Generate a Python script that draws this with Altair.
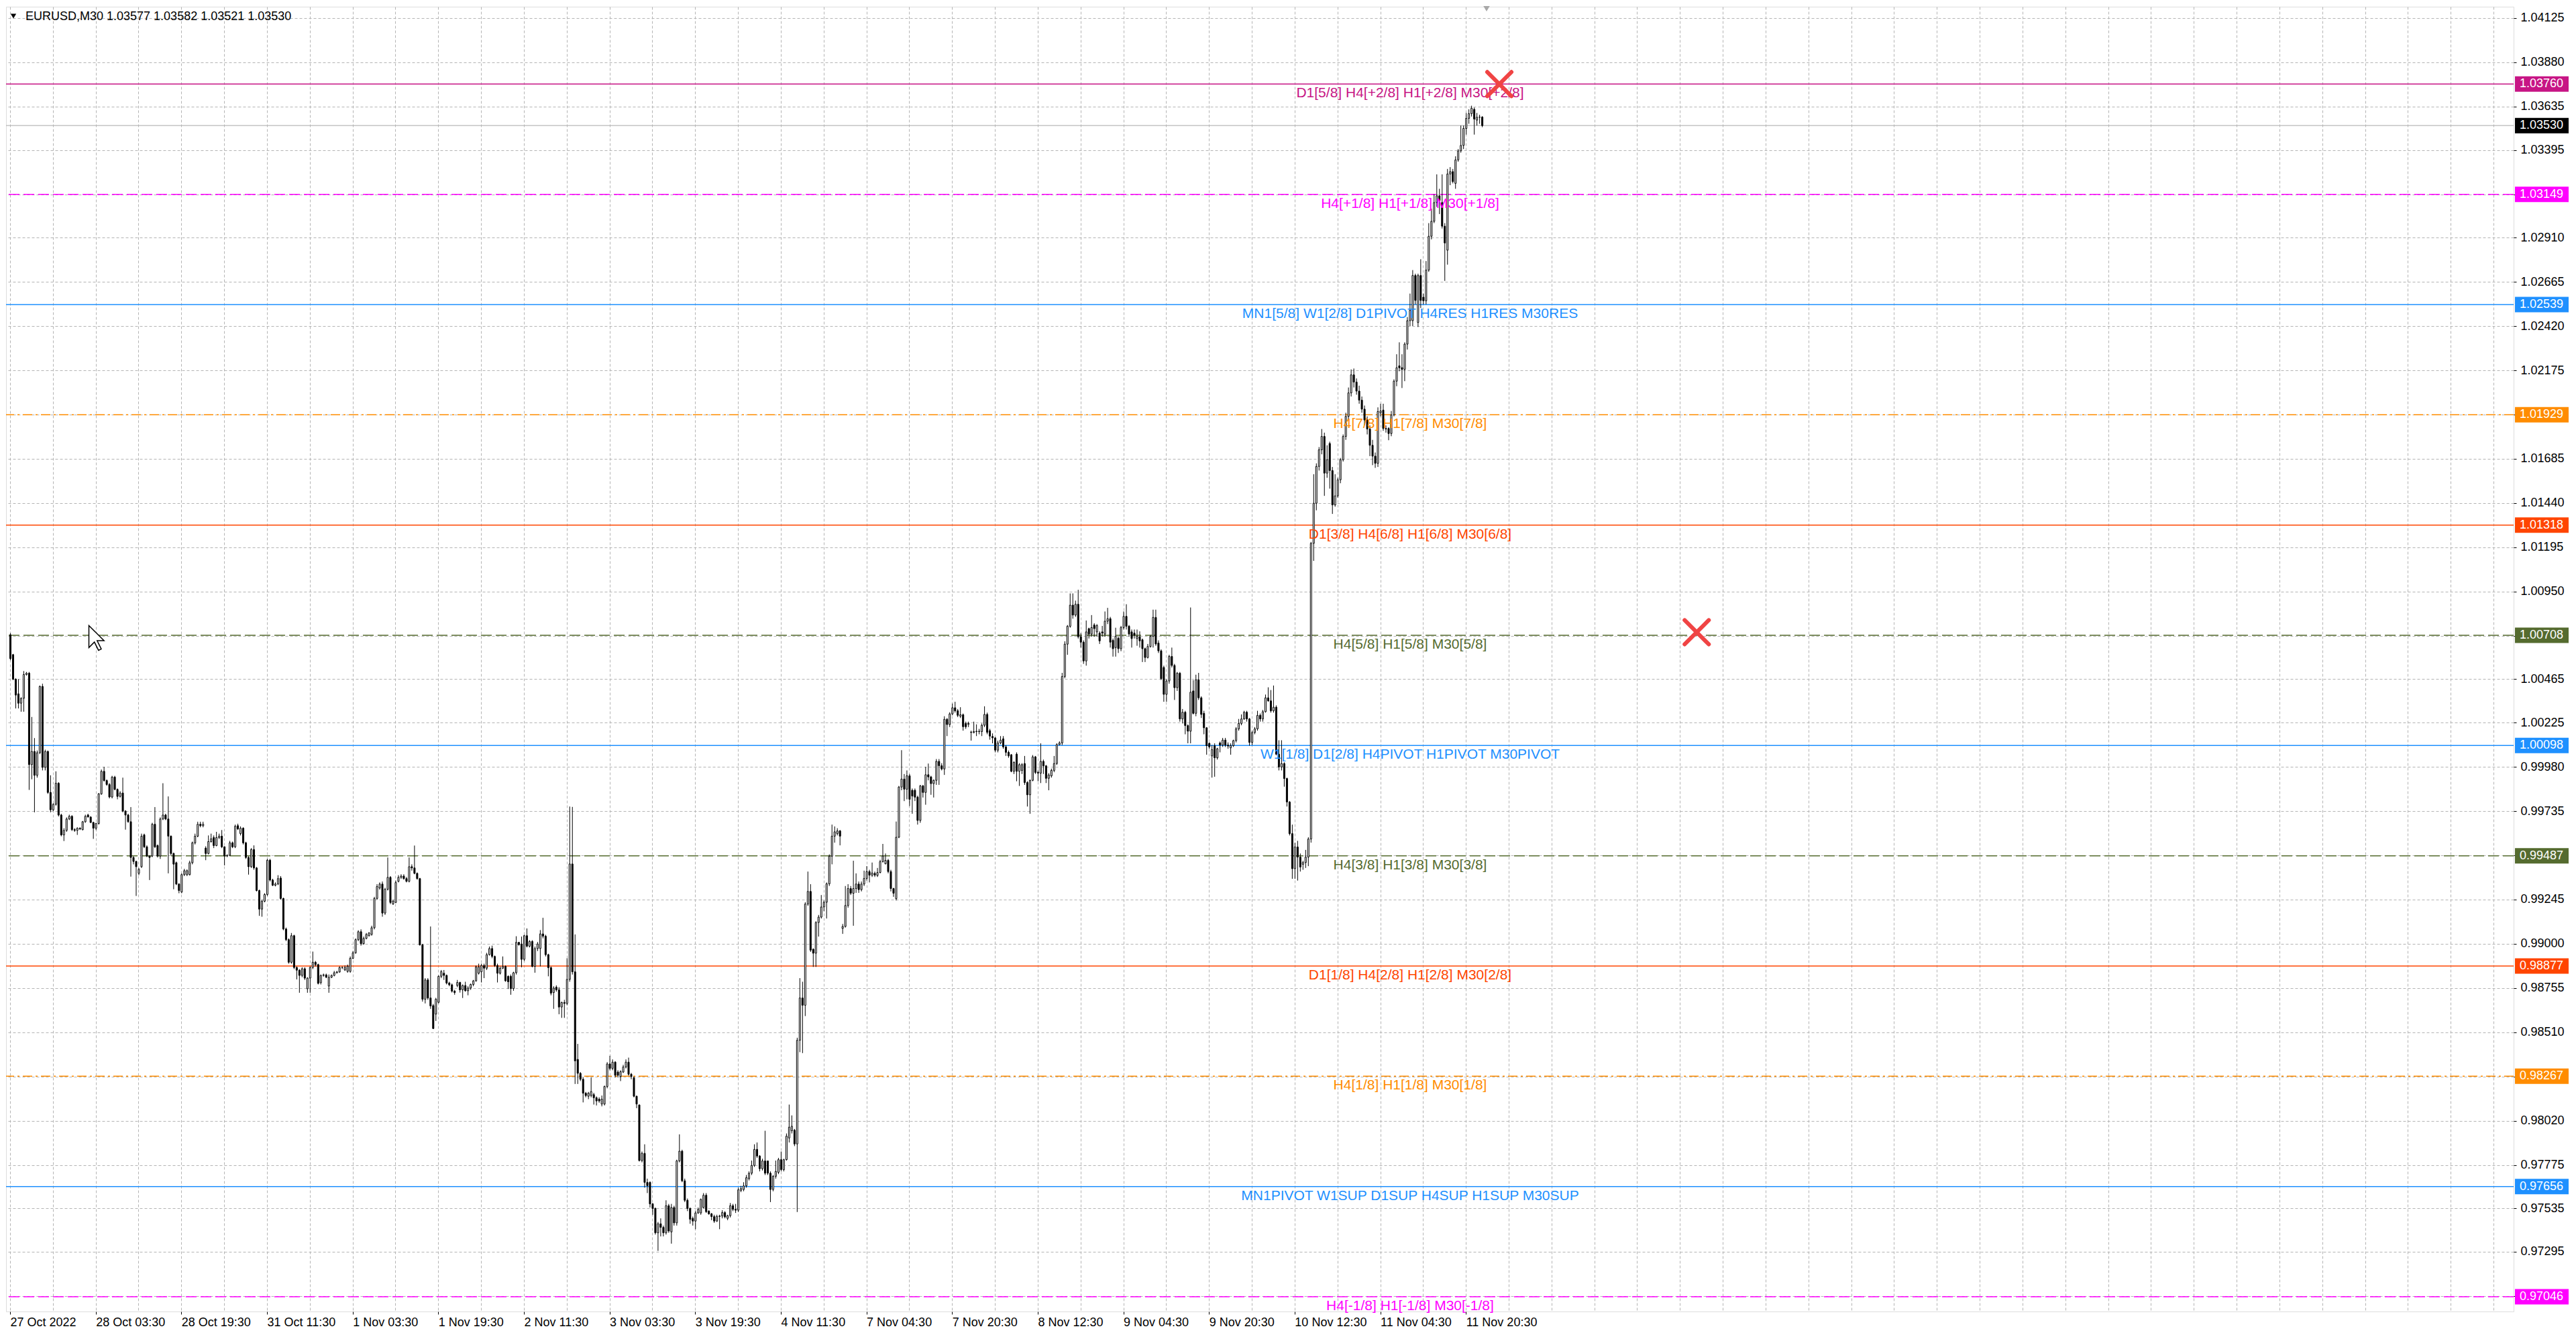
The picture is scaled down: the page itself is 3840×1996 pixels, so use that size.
import altair as alt
import pandas as pd

# ---------------- candle data (price in points, 1 point = 0.00001) ----------------
OPEN_PTS = [
100711,100601,100465,100384,100332,100359,100491,100498,99992,100065,
99933,100058,100425,99977,100065,99838,99742,99772,99889,99713,
99603,99628,99691,99706,99632,99628,99640,99632,99676,99713,
99702,99672,99640,99666,99830,99955,99904,99882,99813,99923,
99855,99816,99835,99735,99713,99676,99478,99456,99390,99427,
99603,99537,99486,99486,99662,99544,99486,99691,99713,99691,
99596,99500,99449,99331,99287,99383,99383,99383,99449,99559,
99596,99662,99654,99530,99500,99566,99588,99544,99588,99596,
99537,99486,99490,99559,99537,99654,99610,99640,99559,99478,
99427,99522,99420,99295,99192,99236,99273,99463,99353,99324,
99331,99364,99251,99082,99023,98898,99045,98869,98854,98825,
98862,98751,98810,98869,98898,98885,98785,98825,98828,98766,
98815,98825,98840,98844,98869,98855,98847,98847,98920,98950,
99023,99067,99001,99030,99045,99052,99089,99251,99309,99331,
99170,99302,99368,99221,99229,99346,99368,99375,99361,99346,
99427,99420,99390,99361,98994,98693,98800,98700,
98658,98611,98676,98820,98837,98825,98783,98773,98738,98769,
98786,98745,98769,98740,98755,98775,98795,98837,98845,98880,
98865,98940,98974,98930,98880,98837,98865,98875,98820,98820,
98752,98840,99008,98999,98914,99045,98987,99013,98875,98974,
98974,99055,99042,98940,98868,98730,98760,98745,98650,98675,
98670,98803,99442,98845,98360,98283,98250,98173,98156,98160,
98165,98148,98140,98113,98113,98210,98335,98310,98345,98290,
98265,98290,98318,98345,98278,98258,98156,98108,97800,97840,
97679,97679,97560,97535,97400,97450,97430,97400,97550,97405,
97540,97455,97798,97852,97688,97580,97535,97480,97465,97510,
97510,97540,97608,97520,97505,97490,97465,97490,97493,97512,
97480,97495,97550,97530,97525,97635,97640,97660,97700,97730,
97773,97862,97825,97755,97798,97798,97730,97640,97713,97735,
97805,97750,97805,97925,97965,97968,97892,98466,98700,98660,
99220,99290,98970,98948,99118,99148,99204,99230,99332,99485,
99596,99610,99625,99085,99096,99212,99306,99280,
99306,99331,99300,99331,99362,99400,99380,99390,99378,99395,
99455,99443,99462,99400,99306,99250,99590,99868,99912,99856,
99930,99850,99850,99812,99683,99874,99838,99936,99924,99887,
99905,100010,99986,99968,100243,100214,100273,100307,100290,100260,
100268,100220,100215,100172,100170,100175,100177,100175,100210,100270,
100180,100148,100140,100072,100112,100135,100090,100060,100047,99955,
100050,99955,99960,99998,99893,99825,99905,100035,99950,99945,
100010,99985,99916,99930,99960,99998,100103,100112,100480,100659,
100758,100875,100820,100880,100700,100670,100566,100745,100715,100765,
100727,100720,100727,100715,100786,100800,100680,100640,100692,100634,
100751,100813,100758,100727,100720,100690,100700,100683,100634,100585,
100646,100702,100807,100665,100622,100530,100381,100455,100591,100541,
100418,100498,100245,100282,100208,100177,100400,100276,100461,100362,
100276,100196,100110,100040,100097,100030,100112,100100,100128,100100,
100085,100097,100125,100190,100220,100245,100282,100245,100115,100170,
100190,100265,100245,100285,100362,100345,100290,100310,100050,
99979,99998,99915,99785,99610,99416,99536,99480,99440,99450,
99480,99580,101217,101439,101643,101735,101809,101606,101770,101620,
101430,101480,101569,101680,101809,101920,102050,102150,102110,102060,
102010,101960,101900,101850,101760,101700,101660,101940,101955,101853,
101853,101825,101928,102115,102200,102190,102180,102320,102450,102450,
102700,102440,102700,102580,102560,102730,102917,103000,103104,103141,
103104,102973,102840,103262,103275,103210,103340,103390,103420,103514,
103570,103596,103620,103560,103576,103577,
]

HIGH_PTS = [
100720,100605,100470,100465,100365,100510,100505,100505,100256,100139,
100070,100430,100440,100075,100070,99933,99779,99955,99895,99720,
99640,99700,99715,99712,99640,99645,99645,99680,99715,99720,
99706,99676,99670,99835,99965,99980,99910,99890,99930,99930,
99860,99845,99920,99740,99720,99757,99485,99460,99420,99610,
99610,99545,99490,99670,99757,99550,99700,99889,99720,99816,
99600,99505,99455,99335,99390,99415,99412,99460,99566,99610,
99676,99676,99676,99540,99600,99610,99600,99620,99610,99630,
99540,99495,99570,99566,99660,99665,99650,99645,99565,99485,
99530,99545,99425,99300,99245,99280,99470,99470,99360,99340,
99380,99375,99255,99090,99030,99060,99050,98875,98860,98870,
98870,98815,98875,98957,98905,98890,98830,98835,98835,98830,
98830,98850,98850,98875,98875,98880,98885,98930,98960,99030,
99075,99080,99040,99060,99065,99100,99260,99330,99340,99345,
99310,99478,99375,99245,99350,99380,99385,99385,99370,99478,
99440,99544,99395,99365,99000,98810,98810,99096,
98667,98701,98825,98855,98855,98830,98790,98780,98745,98800,
98790,98775,98790,98765,98780,98800,98880,98890,98890,98890,
98950,98985,98990,98935,98890,98875,98930,98880,98825,98830,
98845,99042,99010,99040,99050,99085,99020,99020,98985,99010,
99076,99144,99050,98945,98875,98765,98770,98760,98680,98690,
98920,99760,99758,99052,98446,98290,98260,98180,98180,98260,
98175,98155,98150,98160,98215,98345,98380,98360,98350,98300,
98300,98330,98360,98370,98285,98265,98160,98110,97850,97890,
97700,97685,97565,97540,97460,97480,97440,97580,97560,97560,
97550,97805,97945,97860,97700,97590,97540,97490,97520,97540,
97590,97620,97620,97525,97510,97500,97500,97500,97525,97520,
97500,97565,97560,97560,97650,97660,97680,97720,97740,97800,
97890,97900,97830,97810,97965,97800,97740,97720,97800,97815,
97850,97810,97950,98110,98050,97975,98480,98810,98790,99230,
99400,99330,98975,99125,99160,99270,99240,99340,99495,99660,
99650,99640,99630,99110,99320,99330,99320,99460,
99390,99345,99345,99405,99430,99410,99450,99400,99420,99465,
99553,99500,99470,99410,99310,99677,99874,100072,99940,99960,
99940,99860,99860,99820,99880,99880,99980,99998,99930,99910,
100023,100023,100000,100260,100250,100282,100330,100340,100300,100310,
100275,100230,100230,100180,100230,100215,100190,100220,100315,100280,
100190,100165,100145,100125,100150,100150,100100,100070,100050,100010,
100060,100000,100000,100040,99900,99910,100045,100040,99960,100110,
100020,99990,99945,99970,100040,100110,100121,100500,100675,100765,
100940,100940,100900,100960,100720,100680,100790,100750,100820,100775,
100770,100730,100760,100840,100860,100810,100690,100750,100700,100760,
100840,100880,100765,100740,100740,100740,100730,100690,100640,100660,
100710,100850,100850,100680,100630,100540,100465,100600,100640,100550,
100505,100505,100300,100290,100215,100862,100460,100490,100500,100370,
100290,100200,100115,100100,100110,100085,100120,100140,100140,100115,
100110,100130,100200,100245,100270,100290,100290,100250,100180,100200,
100290,100275,100295,100380,100420,100405,100430,100320,100127,
100127,100005,99920,99790,99660,99560,99570,99500,99460,99520,
99590,101225,101600,101660,101750,101850,101830,101760,101780,101640,
101600,101580,101690,101820,101940,102080,102180,102185,102130,102090,
102030,101980,101920,101870,101790,101720,101970,101990,101990,101870,
101860,101950,102125,102264,102330,102264,102330,102470,102600,102730,
102710,102710,102790,102600,102780,102990,103070,103150,103260,103180,
103260,102990,103290,103300,103290,103360,103400,103530,103530,103600,
103620,103640,103630,103600,103590,103582,
]

LOW_PTS = [
100570,100460,100303,100303,100285,100285,100485,99852,99911,99728,
99920,100050,99960,99960,99830,99728,99735,99765,99705,99595,
99569,99620,99685,99625,99620,99603,99630,99628,99670,99700,
99668,99581,99630,99660,99825,99898,99875,99805,99805,99850,
99800,99810,99728,99632,99670,99372,99440,99265,99380,99420,
99530,99480,99353,99480,99530,99478,99470,99685,99685,99390,
99490,99302,99325,99280,99280,99375,99375,99378,99440,99550,
99590,99645,99645,99463,99495,99560,99530,99540,99580,99530,
99434,99480,99485,99530,99530,99630,99600,99550,99470,99383,
99420,99410,99290,99155,99150,99230,99265,99345,99320,99318,
99325,99245,99075,99015,98890,98890,98860,98803,98729,98815,
98800,98729,98729,98860,98875,98775,98775,98818,98810,98729,
98810,98820,98835,98840,98860,98850,98840,98840,98915,98945,
99015,98990,98995,99025,99040,99045,99080,99245,99300,99150,
99160,99295,99220,99215,99225,99340,99360,99355,99340,99340,
99405,99385,99355,98990,98680,98670,98690,98640,
98528,98573,98670,98810,98800,98775,98765,98730,98718,98760,
98730,98700,98735,98715,98745,98765,98790,98830,98786,98810,
98855,98935,98920,98872,98786,98830,98860,98790,98750,98718,
98740,98830,98990,98870,98905,98980,98980,98870,98840,98960,
98875,99030,98930,98820,98715,98640,98735,98610,98590,98590,
98660,98790,98830,98224,98224,98240,98122,98150,98140,98150,
98110,98105,98120,98100,98105,98200,98300,98300,98260,98260,
98240,98285,98310,98270,98250,98150,98090,97795,97790,97650,
97620,97540,97500,97390,97300,97380,97380,97390,97400,97340,
97440,97440,97790,97680,97570,97520,97450,97440,97420,97505,
97500,97535,97510,97500,97470,97455,97460,97420,97480,97480,
97470,97485,97520,97510,97515,97625,97630,97650,97690,97720,
97765,97815,97740,97745,97720,97720,97570,97630,97700,97725,
97740,97740,97800,97900,97950,97880,97515,98400,98395,98600,
99210,98955,98872,98872,99040,99140,99180,99140,99320,99440,
99560,99600,99545,99055,99090,99200,99270,99100,
99282,99282,99290,99320,99350,99340,99370,99370,99370,99390,
99450,99440,99390,99290,99260,99240,99585,99850,99790,99800,
99763,99720,99790,99660,99670,99810,99770,99905,99825,99810,
99880,99880,99960,99935,100150,100200,100265,100280,100255,100250,
100180,100190,100200,100125,100165,100150,100160,100150,100200,100160,
100130,100110,100060,100060,100105,100080,100040,100030,99950,99940,
99900,99874,99940,99880,99760,99720,99900,99940,99900,99890,
99940,99890,99850,99920,99950,99990,100100,100100,100470,100600,
100750,100800,100810,100690,100640,100550,100540,100690,100700,100700,
100700,100660,100700,100700,100770,100640,100590,100590,100610,100620,
100740,100740,100700,100640,100690,100650,100640,100560,100560,100580,
100640,100640,100650,100610,100460,100340,100340,100440,100530,100350,
100400,100230,100220,100160,100110,100110,100270,100260,100350,100250,
100160,100047,100080,99920,99925,100020,100060,100090,100090,100080,
100047,100090,100115,100180,100210,100240,100230,100097,100100,100160,
100180,100230,100230,100280,100340,100280,100280,100044,99960,
99960,99870,99760,99600,99360,99360,99350,99400,99410,99420,
99430,99560,101120,101400,101620,101710,101480,101580,101520,101380,
101420,101470,101550,101670,101790,101900,102030,102080,102040,101990,
101940,101870,101820,101700,101650,101635,101640,101920,101840,101830,
101788,101810,101920,102087,102170,102077,102115,102290,102420,102420,
102540,102415,102520,102540,102540,102720,102900,102990,103080,103040,
102960,102670,102760,103200,103210,103180,103330,103380,103400,103480,
103540,103580,103480,103530,103540,103521,
]

CLOSE_PTS = [
100579,100465,100377,100332,100359,100491,100498,99992,100065,99933,
100058,100425,99977,100065,99838,99742,99772,99889,99713,99603,
99628,99691,99706,99632,99628,99640,99636,99676,99706,99702,
99672,99640,99666,99830,99955,99904,99882,99813,99923,99855,
99816,99835,99735,99713,99676,99478,99456,99427,99412,99596,
99537,99486,99478,99662,99537,99486,99691,99713,99691,99596,
99500,99441,99331,99295,99383,99405,99405,99449,99559,99596,
99662,99654,99662,99500,99566,99581,99544,99588,99596,99537,
99486,99490,99559,99537,99651,99636,99640,99559,99478,99427,
99522,99420,99295,99192,99236,99273,99463,99353,99324,99331,
99361,99251,99082,99023,98898,99045,98869,98854,98825,98862,
98810,98810,98869,98898,98885,98781,98825,98828,98815,98815,
98825,98840,98844,98869,98869,98869,98876,98920,98950,99023,
99067,99001,99030,99052,99060,99089,99251,99317,99331,99170,
99302,99368,99229,99236,99339,99368,99375,99361,99346,99427,
99420,99390,99361,98994,98693,98800,98700,98656,
98531,98693,98820,98846,98825,98783,98773,98738,98730,98786,
98745,98769,98740,98755,98775,98795,98872,98872,98880,98865,
98940,98974,98930,98880,98837,98865,98875,98795,98790,98752,
98840,99008,98995,98914,99045,98987,99013,98875,98974,98999,
99055,99042,98940,98868,98727,98755,98745,98650,98675,98670,
98803,99442,98845,98352,98283,98250,98173,98160,98173,98182,
98148,98130,98130,98140,98210,98335,98310,98345,98272,98272,
98292,98318,98345,98278,98265,98156,98113,97800,97840,97679,
97661,97560,97535,97400,97450,97430,97400,97550,97410,97540,
97455,97798,97852,97688,97580,97535,97475,97465,97510,97530,
97585,97608,97517,97505,97490,97465,97490,97493,97512,97488,
97495,97550,97530,97525,97638,97645,97660,97705,97730,97773,
97862,97825,97755,97798,97730,97730,97640,97713,97740,97805,
97750,97805,97935,97985,97990,97892,98466,98700,98660,99220,
99290,98965,98948,99118,99148,99204,99230,99332,99485,99596,
99620,99625,99596,99096,99212,99306,99280,99306,
99331,99300,99331,99362,99400,99380,99392,99380,99395,99455,
99486,99462,99400,99306,99280,99590,99868,99912,99856,99930,
99800,99818,99812,99683,99874,99838,99936,99924,99887,99905,
100010,99986,99968,100243,100214,100273,100307,100290,100265,100268,
100202,100202,100220,100170,100175,100177,100175,100210,100270,100171,
100150,100140,100072,100112,100128,100090,100060,100040,99955,100005,
99955,99992,99992,99893,99825,99905,100035,99949,99945,100010,
99985,99916,99935,99960,99998,100103,100112,100480,100659,100758,
100875,100820,100880,100700,100670,100566,100727,100715,100751,100745,
100762,100677,100720,100786,100800,100670,100634,100702,100634,100751,
100813,100758,100715,100690,100708,100702,100677,100634,100585,100646,
100702,100807,100660,100622,100468,100381,100455,100591,100541,100418,
100498,100245,100282,100208,100177,100393,100276,100461,100362,100270,
100196,100097,100090,100075,100030,100080,100100,100128,100100,100095,
100097,100125,100190,100220,100245,100282,100245,100115,100170,100190,
100265,100245,100285,100362,100345,100290,100310,100050,99979,
99998,99915,99785,99610,99416,99536,99480,99425,99450,99480,
99580,101217,101439,101643,101735,101809,101606,101680,101620,101430,
101480,101569,101680,101809,101920,102050,102150,102110,102060,102010,
101960,101900,101850,101760,101700,101660,101947,101950,101853,101850,
101825,101928,102115,102189,102189,102180,102320,102450,102507,102700,
102562,102700,102562,102560,102730,102917,103000,103104,103141,103115,
102973,102880,103262,103275,103220,103340,103390,103420,103514,103570,
103596,103626,103566,103576,103577,103530,
]

# ---------------- axes ----------------
TIME_LABELS = ["27 Oct 2022", "28 Oct 03:30", "28 Oct 19:30", "31 Oct 11:30",
               "1 Nov 03:30", "1 Nov 19:30", "2 Nov 11:30", "3 Nov 03:30",
               "3 Nov 19:30", "4 Nov 11:30", "7 Nov 04:30", "7 Nov 20:30",
               "8 Nov 12:30", "9 Nov 04:30", "9 Nov 20:30", "10 Nov 12:30",
               "11 Nov 04:30", "11 Nov 20:30"]
BARS_PER_LABEL = 32
BARS_PER_GRID = 16

PRICE_TICKS = [1.04125, 1.03880, 1.03635, 1.03395, 1.03150, 1.02910, 1.02665,
               1.02420, 1.02175, 1.01930, 1.01685, 1.01440, 1.01195, 1.00950,
               1.00705, 1.00465, 1.00225, 0.99980, 0.99735, 0.99490, 0.99245,
               0.99000, 0.98755, 0.98510, 0.98265, 0.98020, 0.97775, 0.97535,
               0.97295, 0.97050]
HIDDEN_TICKS = [1.03150, 1.01930, 1.00705, 0.99490, 0.98265, 0.97050]

# ---------------- Murrey / pivot levels ----------------
LEVEL_PRICE = [1.03760, 1.03149, 1.02539, 1.01929, 1.01318, 1.00708,
               1.00098, 0.99487, 0.98877, 0.98267, 0.97656, 0.97046]
LEVEL_COLOR = ["#C71585", "#FF00FF", "#1E90FF", "#FF8C00", "#FF4500", "#556B2F",
               "#1E90FF", "#556B2F", "#FF4500", "#FF8C00", "#1E90FF", "#FF00FF"]
LEVEL_STYLE = ["solid", "dash", "solid", "dashdot", "solid", "dash",
               "solid", "dash", "solid", "dashdot", "solid", "dash"]
LEVEL_TEXT = ["D1[5/8] H4[+2/8] H1[+2/8] M30[+2/8]",
              "H4[+1/8] H1[+1/8] M30[+1/8]",
              "MN1[5/8] W1[2/8] D1PIVOT H4RES H1RES M30RES",
              "H4[7/8] H1[7/8] M30[7/8]",
              "D1[3/8] H4[6/8] H1[6/8] M30[6/8]",
              "H4[5/8] H1[5/8] M30[5/8]",
              "W1[1/8] D1[2/8] H4PIVOT H1PIVOT M30PIVOT",
              "H4[3/8] H1[3/8] M30[3/8]",
              "D1[1/8] H4[2/8] H1[2/8] M30[2/8]",
              "H4[1/8] H1[1/8] M30[1/8]",
              "MN1PIVOT W1SUP D1SUP H4SUP H1SUP M30SUP",
              "H4[-1/8] H1[-1/8] M30[-1/8]"]

BID_PRICE = 1.03530
CROSS_BAR = [556.5, 630.25]
CROSS_PRICE = [1.03760, 1.00725]
SYMBOL_TITLE = "EURUSD,M30  1.03577 1.03582 1.03521 1.03530"

# ---------------- layout ----------------
W, H = 3738, 1945
X_DOMAIN = [-0.25, 934.25]
Y_DOMAIN = [0.969644, 1.041881]
FONT = "Liberation Sans"
LABEL_X = 2093
GRID_COLOR = "#B4B4B4"
CURSOR_PATH = ("M-1,-1L-1,0.684L-0.579,0.263L-0.263,0.895L-0.053,0.789"
               "L-0.368,0.158L0.158,0.158Z")

n = min(len(OPEN_PTS), len(HIGH_PTS), len(LOW_PTS), len(CLOSE_PTS))
rows = []
for i in range(n):
    o, h, l, c = OPEN_PTS[i], HIGH_PTS[i], LOW_PTS[i], CLOSE_PTS[i]
    rows.append({"i": i, "o": o / 1e5, "c": c / 1e5,
                 "h": max(h, o, c) / 1e5, "l": min(l, o, c) / 1e5})
candles = pd.DataFrame(rows)

levels = pd.DataFrame({"price": LEVEL_PRICE, "color": LEVEL_COLOR,
                       "style": LEVEL_STYLE, "text": LEVEL_TEXT})
tags = pd.DataFrame({"price": LEVEL_PRICE + [BID_PRICE],
                     "color": LEVEL_COLOR + ["#000000"]})
tags["label"] = tags["price"].map(lambda v: "%.5f" % v)
bid = pd.DataFrame({"price": [BID_PRICE]})
crosses = pd.DataFrame({"bar": CROSS_BAR, "price": CROSS_PRICE})
title_df = pd.DataFrame({"t": [SYMBOL_TITLE]})

last_label = BARS_PER_LABEL * (len(TIME_LABELS) - 1)
labels_js = "[" + ",".join("'%s'" % s for s in TIME_LABELS) + "]"
label_test = "datum.value %% %d == 0 && datum.value <= %d" % (BARS_PER_LABEL, last_label)
hidden_js = "[" + ",".join(repr(v) for v in HIDDEN_TICKS) + "]"

xscale = alt.Scale(domain=X_DOMAIN, nice=False, zero=False)
yscale = alt.Scale(domain=Y_DOMAIN, nice=False, zero=False)

xaxis = alt.Axis(
    values=list(range(0, int(X_DOMAIN[1]), BARS_PER_GRID)),
    grid=True, gridDash=[4, 3], gridColor=GRID_COLOR, gridWidth=1,
    domain=False, ticks=True, tickSize=4, tickColor="black",
    tickOpacity={"condition": {"test": label_test, "value": 1}, "value": 0},
    labelExpr="(%s) ? %s[datum.value / %d] : ''" % (label_test, labels_js, BARS_PER_LABEL),
    labelAlign="left", labelBaseline="top", labelPadding=3,
    labelFont=FONT, labelFontSize=18, labelColor="black",
    labelOverlap=False, labelFlush=False, labelBound=False, title=None)

yaxis = alt.Axis(
    orient="right", values=PRICE_TICKS,
    grid=True, gridDash=[4, 3], gridColor=GRID_COLOR, gridWidth=1,
    domain=False, ticks=True, tickSize=4, tickColor="black",
    labelExpr="indexof(%s, datum.value) >= 0 ? '' : format(datum.value, '.5f')" % hidden_js,
    labelFont=FONT, labelFontSize=18, labelColor="black", labelPadding=6,
    labelOverlap=False, labelFlush=False, labelBound=False, title=None)


def X(field):
    return alt.X(field, scale=xscale, axis=xaxis)


def Y(field):
    return alt.Y(field, scale=yscale, axis=yaxis)


def level_rule(style, dash):
    mk = dict(strokeWidth=1.4)
    if dash:
        mk["strokeDash"] = dash
    return alt.Chart(levels).transform_filter(
        "datum.style == '%s'" % style).mark_rule(**mk).encode(
        y=Y("price:Q"), color=alt.Color("color:N", scale=None))


rule_solid = level_rule("solid", None)
rule_dash = level_rule("dash", [16, 6])
rule_dashdot = level_rule("dashdot", [14, 5, 3, 5])

bid_rule = alt.Chart(bid).mark_rule(color="#B8B8B8", strokeWidth=1.3).encode(y=Y("price:Q"))

wicks = alt.Chart(candles).mark_rule(color="black", strokeWidth=1, xOffset=0.5).encode(
    x=X("i:Q"), y=Y("l:Q"), y2="h:Q")

bodies = alt.Chart(candles).mark_bar(size=2, stroke="black", strokeWidth=1, xOffset=0.5).encode(
    x=X("i:Q"), y=Y("o:Q"), y2="c:Q",
    fill=alt.condition("datum.c >= datum.o", alt.value("white"), alt.value("black")))

level_text = alt.Chart(levels).mark_text(
    align="center", baseline="alphabetic", dy=20, font=FONT, fontSize=21).encode(
    x=alt.value(LABEL_X), y=Y("price:Q"), text="text:N",
    color=alt.Color("color:N", scale=None))

cross_marks = alt.Chart(crosses).mark_point(
    shape="M-1,-1L1,1M1,-1L-1,1", size=1296, filled=False, strokeWidth=6,
    strokeCap="round", color="#F04444", opacity=1).encode(
    x=X("bar:Q"), y=Y("price:Q"))

tag_boxes = alt.Chart(tags).mark_rect(yOffset=-11.5, y2Offset=11.5).encode(
    x=alt.value(W + 2), x2=alt.value(W + 82), y=Y("price:Q"), y2="price:Q",
    color=alt.Color("color:N", scale=None))

tag_text = alt.Chart(tags).mark_text(
    align="left", baseline="middle", font=FONT, fontSize=18, color="white").encode(
    x=alt.value(W + 9), y=Y("price:Q"), text="label:N")

title_text = alt.Chart(title_df).mark_text(
    align="left", baseline="middle", font=FONT, fontSize=18, color="black").encode(
    x=alt.value(29), y=alt.value(15), text="t:N")

title_tri = alt.Chart(title_df).mark_point(
    shape="triangle-down", filled=True, size=70, color="black", opacity=1).encode(
    x=alt.value(11), y=alt.value(14))

shift_tri = alt.Chart(title_df).mark_point(
    shape="triangle-down", filled=True, size=90, color="#A8A8A8", opacity=1).encode(
    x=alt.value(2207), y=alt.value(3))

cursor = alt.Chart(title_df).mark_point(
    shape=CURSOR_PATH, size=1520, filled=True, fill="white", stroke="black",
    strokeWidth=1.5, opacity=1, fillOpacity=1).encode(
    x=alt.value(143), y=alt.value(942))

chart = alt.layer(
    rule_solid, rule_dash, rule_dashdot, bid_rule,
    wicks, bodies, level_text, cross_marks,
    tag_boxes, tag_text, title_tri, title_text, shift_tri, cursor
).properties(
    width=W, height=H, padding=0
).configure_view(
    stroke="black", strokeWidth=1
).configure(background="white")

chart.save("out.html", embed_options={"renderer": "svg", "actions": False})
